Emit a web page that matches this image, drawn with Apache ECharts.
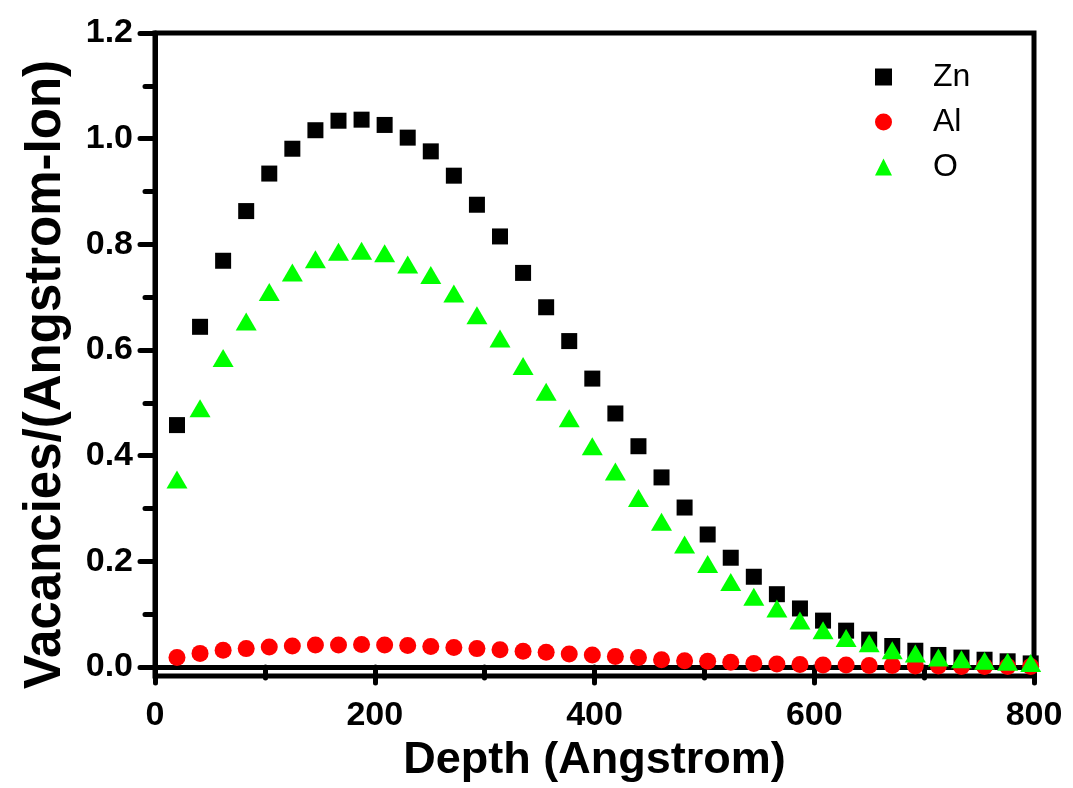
<!DOCTYPE html>
<html>
<head>
<meta charset="utf-8">
<script src="https://cdn.jsdelivr.net/npm/echarts@6/dist/echarts.min.js"></script>
<style>html,body{margin:0;padding:0;background:#fff;}#c{width:1073px;height:788px;}</style>
</head>
<body>
<div id="c"></div>
<script>
const depth = [20,41,62,83,104,125,146,167,188,209,230,251,272,293,314,335,356,377,398,419,440,461,482,503,524,545,566,587,608,629,650,671,692,713,734,755,776,797];
const zn = [0.458,0.644,0.769,0.863,0.934,0.981,1.016,1.034,1.036,1.026,1.002,0.976,0.930,0.875,0.815,0.746,0.681,0.617,0.546,0.480,0.418,0.359,0.302,0.251,0.207,0.171,0.138,0.111,0.088,0.069,0.052,0.040,0.031,0.023,0.018,0.014,0.011,0.007];
const al = [0.018,0.026,0.032,0.035,0.038,0.040,0.042,0.042,0.043,0.042,0.041,0.039,0.037,0.035,0.033,0.030,0.028,0.025,0.023,0.020,0.018,0.014,0.012,0.011,0.009,0.007,0.006,0.005,0.004,0.004,0.003,0.003,0.002,0.002,0.001,0.001,0.001,0.001];
const ox = [0.355,0.490,0.585,0.654,0.710,0.747,0.772,0.786,0.788,0.783,0.762,0.742,0.707,0.666,0.622,0.570,0.521,0.471,0.418,0.370,0.320,0.275,0.232,0.195,0.161,0.133,0.111,0.088,0.070,0.055,0.045,0.032,0.026,0.018,0.015,0.012,0.010,0.008];
const yTicks = [0, 0.2, 0.4, 0.6, 0.8, 1.0, 1.2];
const yMinorTicks = [0.1, 0.3, 0.5, 0.7, 0.9, 1.1];
const seriesNames = ['Zn', 'Al', 'O'];

const pair = (ys) => depth.map((d, i) => [d, ys[i]]);
const FONT = 'Liberation Sans, Arial, sans-serif';

const chart = echarts.init(document.getElementById('c'), null, {renderer: 'canvas'});
chart.setOption({
  animation: false,
  backgroundColor: '#fff',
  grid: {left: 155, right: 39, top: 33, bottom: 111, show: true, borderColor: '#000', borderWidth: 5, backgroundColor: 'transparent'},
  legend: {
    orient: 'vertical', left: 870, top: 56, itemWidth: 17, itemHeight: 17, itemGap: 13,
    textStyle: {fontFamily: FONT, fontSize: 32, color: '#000', padding: [0, 0, 0, 36]},
    data: [{name: seriesNames[0], icon: 'rect'}, {name: seriesNames[1], icon: 'circle'}, {name: seriesNames[2], icon: 'triangle'}]
  },
  xAxis: {
    type: 'value', min: 0, max: 800, interval: 200,
    name: 'Depth (Angstrom)', nameLocation: 'middle', nameGap: 58,
    nameTextStyle: {fontFamily: FONT, fontWeight: 'bold', fontSize: 45, color: '#000'},
    axisLine: {show: true, lineStyle: {color: '#000', width: 5}},
    axisTick: {show: true, inside: false, length: 16, lineStyle: {color: '#000', width: 5, cap: 'round'}},
    minorTick: {show: true, splitNumber: 2, length: 11, lineStyle: {color: '#000', width: 5, cap: 'round'}},
    axisLabel: {fontFamily: FONT, fontWeight: 'bold', fontSize: 34, color: '#000', margin: 23},
    splitLine: {show: false}, minorSplitLine: {show: false}
  },
  yAxis: [{
    type: 'value', min: -0.017, max: 1.2,
    name: 'Vacancies/(Angstrom-Ion)', nameLocation: 'middle', nameGap: 84, nameRotate: 90,
    nameTextStyle: {fontFamily: FONT, fontWeight: 'bold', fontSize: 51, color: '#000', padding: [0, 40, 0, 0]},
    axisLine: {show: true, lineStyle: {color: '#000', width: 5}},
    axisTick: {show: true, length: 15, customValues: yTicks, lineStyle: {color: '#000', width: 5, cap: 'round'}},
    axisLabel: {customValues: yTicks, formatter: (v) => v.toFixed(1), fontFamily: FONT, fontWeight: 'bold', fontSize: 34, color: '#000', margin: 22},
    splitLine: {show: false}
  }, {
    type: 'value', min: -0.017, max: 1.2, position: 'left',
    axisLine: {show: false},
    axisTick: {show: true, length: 10, customValues: yMinorTicks, lineStyle: {color: '#000', width: 5, cap: 'round'}},
    axisLabel: {show: false},
    splitLine: {show: false}
  }],
  series: [
    {name: seriesNames[0], type: 'scatter', data: pair(zn), symbol: 'rect', symbolSize: 16, itemStyle: {color: '#000000', opacity: 1}},
    {name: seriesNames[1], type: 'scatter', data: pair(al), symbol: 'circle', symbolSize: 17, itemStyle: {color: '#ff0000', opacity: 1}},
    {name: seriesNames[2], type: 'scatter', data: pair(ox), symbol: 'triangle', symbolSize: [21, 18], itemStyle: {color: '#00ff00', opacity: 1}}
  ]
});
</script>
</body>
</html>
